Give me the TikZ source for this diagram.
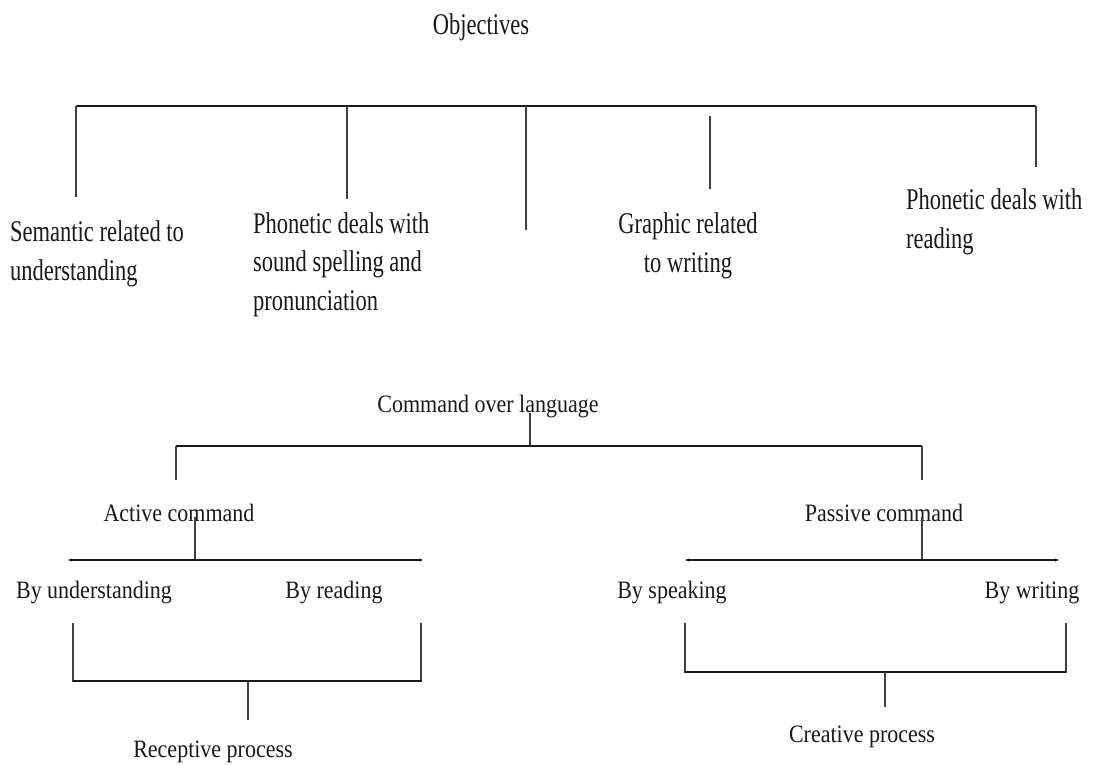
\documentclass[tikz,border=0pt]{standalone}
\usepackage{fontspec}
\setmainfont{Liberation Serif}
\newfontfamily\topfont{Liberation Serif}[FakeStretch=0.75]
\newfontfamily\lowfont{Liberation Serif}[FakeStretch=0.88]
\usetikzlibrary{arrows.meta}
\begin{document}
\begin{tikzpicture}[x=1pt,y=-1pt,
  toptext/.style={inner sep=0pt,text=black!90,font=\topfont\fontsize{30}{38.5}\selectfont},
  lowtext/.style={inner sep=0pt,text=black!90,font=\lowfont\fontsize{25}{30}\selectfont},
  bar/.style={draw=black!90,line width=2pt},
  drop/.style={draw=black!75,line width=1.4pt},
  tip/.style={{Stealth[length=4pt,width=3pt]}-{Stealth[length=4pt,width=3pt]}}]
\useasboundingbox[fill=white] (0,0) rectangle (1094,764);

% ---------- top part ----------
\node[toptext,anchor=base] (obj) at (481,34) {Objectives};
\node[toptext,anchor=base west,align=left] (sem) at (10,280) {Semantic related to\\understanding};
\node[toptext,anchor=base west,align=left] (pho) at (253,310) {Phonetic deals with\\sound spelling and\\pronunciation};
\node[toptext,anchor=base,align=center] (gra) at (688,272) {Graphic related\\to writing};
\node[toptext,anchor=base west,align=left] (phr) at (906,248) {Phonetic deals with\\reading};

\coordinate (tl) at (76,106);
\coordinate (tr) at (1036,106);
\coordinate (t2) at (347,106);
\coordinate (t3) at (526,106);
\coordinate (e1) at (76,197);
\coordinate (e2) at (347,199);
\coordinate (e3) at (526,230);
\coordinate (g1) at (710,116);
\coordinate (g2) at (710,189);
\coordinate (e5) at (1036,167);

\draw[bar,line width=2.4pt] (tl) -- (tr);
\draw[drop] (tl) -- (e1);
\draw[drop] (t2) -- (e2);
\draw[drop] (t3) -- (e3);
\draw[drop] (g1) -- (g2);
\draw[drop] (tr) -- (e5);

% ---------- lower part ----------
\node[lowtext,anchor=base] (col) at (488,412) {Command over language};
\node[lowtext,anchor=base] (act) at (179,521) {Active command};
\node[lowtext,anchor=base] (pas) at (884,521) {Passive command};
\node[lowtext,anchor=base] (byu) at (94,598) {By understanding};
\node[lowtext,anchor=base] (byr) at (334,598) {By reading};
\node[lowtext,anchor=base] (bys) at (672,598) {By speaking};
\node[lowtext,anchor=base] (byw) at (1032,598) {By writing};
\node[lowtext,anchor=base] (rec) at (213,757) {Receptive process};
\node[lowtext,anchor=base] (cre) at (862,742) {Creative process};

\coordinate (c0) at (530,413);
\coordinate (c1) at (530,446);
\coordinate (cl) at (176,446);
\coordinate (cr) at (922,446);
\coordinate (cla) at (176,480);
\coordinate (cra) at (922,480);
\draw[drop] (c0) -- (c1);
\draw[bar,line width=1.8pt] (cl) -- (cr);
\draw[drop] (cl) -- (cla);
\draw[drop] (cr) -- (cra);

\coordinate (a0) at (195,517);
\coordinate (a1) at (195,560);
\coordinate (al) at (68,560);
\coordinate (ar) at (423,560);
\draw[drop] (a0) -- (a1);
\draw[bar,line width=1.6pt,tip] (al) -- (ar);

\coordinate (p0) at (922,517);
\coordinate (p1) at (922,560);
\coordinate (pl) at (685,560);
\coordinate (pr) at (1059,560);
\draw[drop] (p0) -- (p1);
\draw[bar,line width=1.6pt,tip] (pl) -- (pr);

\coordinate (r1) at (73,623);
\coordinate (r2) at (421,623);
\coordinate (r0) at (248,681);
\coordinate (r3) at (248,720);
\draw[drop] (r1) |- (r0) -| (r2);
\draw[bar,line width=1.6pt] (r1 |- r0) -- (r2 |- r0);
\draw[drop] (r0) -- (r3);

\coordinate (s1) at (685,623);
\coordinate (s2) at (1066,623);
\coordinate (s0) at (885,672);
\coordinate (s3) at (885,707);
\draw[drop] (s1) |- (s0) -| (s2);
\draw[bar,line width=1.6pt] (s1 |- s0) -- (s2 |- s0);
\draw[drop] (s0) -- (s3);
\end{tikzpicture}
\end{document}
